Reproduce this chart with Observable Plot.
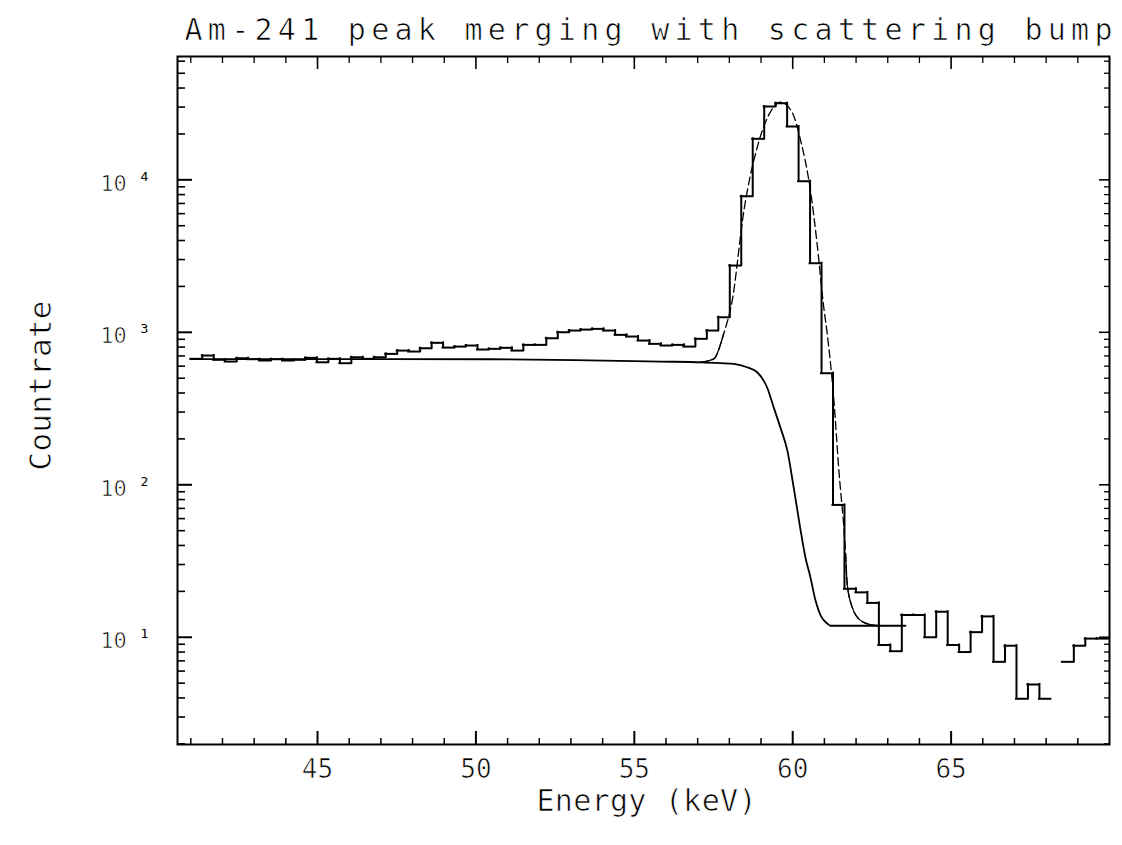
<!DOCTYPE html>
<html>
<head>
<meta charset="utf-8">
<script src="https://cdn.jsdelivr.net/npm/d3@7"></script>
<script src="https://cdn.jsdelivr.net/npm/@observablehq/plot@0.6"></script>
<style>
  body { margin: 0; background: #fff; }
  #chart svg { background: #fff; }
  #chart svg text {
    font-family: "DejaVu Sans Mono", "Liberation Mono", monospace;
    font-weight: normal;
    fill: #000;
    stroke: #fff;
    stroke-width: 0.7px;
    paint-order: fill;
  }
</style>
</head>
<body>
<div id="chart"></div>
<script>
// ---------------- data ----------------
const title = "Am-241 peak merging with scattering bump";
const xLabel = "Energy (keV)";
const yLabel = "Countrate";

// histogram channels (80 channels, lower edge of first and channel width in keV)
const channelStart = 41.0;
const channelWidth = 0.362;
const counts = [
  670, 704, 660, 643, 676, 666, 653, 666, 653, 660,
  680, 636, 670, 627, 686, 670, 686, 722, 759, 748,
  786, 853, 794, 806, 819, 771, 779, 791, 759, 827,
  827, 914, 1001, 1027, 1042, 1053, 1027, 962, 938, 883,
  840, 819, 827, 806, 906, 1027, 1255, 2741, 7805, 18575,
  30260, 31800, 22370, 9790, 2838, 539, 73.8, 20.8, 19.7, 16.8,
  8.9, 8.1, 14.0, 14.0, 10.0, 14.7, 8.9, 8.0, 10.8, 13.7,
  6.9, 8.8, 3.95, 4.9, 3.95, null, 6.9, 8.8, 9.8, 9.8
];

// background (step + constant) curve
const bgEnergy = [41.0, 44.46, 50.40, 53.55, 55.83, 57.13, 57.72, 58.14, 58.56, 58.88, 59.19, 59.40,
                  59.61, 59.83, 60.03, 60.24, 60.40, 60.56, 60.72, 60.88, 61.09, 61.19, 63.56];
const bgRate   = [668, 668, 666, 655, 643, 636, 628, 621, 590, 547, 436, 322,
                  238, 168, 96.3, 51.6, 33.5, 24.7, 17.4, 13.9, 12.3, 11.9, 11.9];

// total fit (background + peak) curve
const fitEnergy = [57.09, 57.51, 57.82, 58.09, 58.46, 58.88, 59.21, 59.61, 59.98, 60.25, 60.56,
                   60.77, 60.98, 61.09, 61.30, 61.45, 61.67, 61.72, 61.88, 62.14, 62.46, 62.77];
const fitRate   = [636, 670, 977, 1616, 6290, 16360, 25740, 32280, 27760, 18100, 8510,
                   3804, 1460, 977, 357, 130, 35.2, 22.4, 15.7, 12.9, 12.1, 11.9];

// axis ticks
const xMajor = [45, 50, 55, 60, 65];
const xMinor = [41, 42, 43, 44, 46, 47, 48, 49, 51, 52, 53, 54, 56, 57, 58, 59, 61, 62, 63, 64, 66, 67, 68, 69];
const yMajor = [10, 100, 1000, 10000];
const yExponent = ["1", "2", "3", "4"];
const yMinor = [2, 3, 4, 5, 6, 7, 8, 9,
                20, 30, 40, 50, 60, 70, 80, 90,
                200, 300, 400, 500, 600, 700, 800, 900,
                2000, 3000, 4000, 5000, 6000, 7000, 8000, 9000,
                20000, 30000, 40000, 50000, 60000];

// ---------------- tables ----------------
const bins = counts.map((v, i) => ({
  lo: channelStart + i * channelWidth,
  hi: channelStart + (i + 1) * channelWidth,
  v
}));
const risers = [];
for (let i = 1; i < bins.length; i++) {
  if (bins[i - 1].v != null && bins[i].v != null) {
    risers.push({x: bins[i].lo, y1: bins[i - 1].v, y2: bins[i].v});
  }
}
const bg = bgEnergy.map((e, i) => ({e, v: bgRate[i]}));
const fit = fitEnergy.map((e, i) => ({e, v: fitRate[i]}));

// ---------------- layout ----------------
const W = 1122, H = 845;
const mL = 177, mR = 13, mT = 56, mB = 101;
const fw = W - mL - mR, fh = H - mT - mB;

const chart = Plot.plot({
  width: W,
  height: H,
  marginLeft: mL,
  marginRight: mR,
  marginTop: mT,
  marginBottom: mB,
  style: {background: "#fff", color: "#000"},
  x: {domain: [40.58, 70.0], axis: null},
  y: {type: "log", domain: [1.98, 64400], axis: null},
  marks: [
    // histogram
    Plot.ruleY(bins.filter(b => b.v != null), {y: "v", x1: "lo", x2: "hi", stroke: "#000", strokeWidth: 2, strokeLinecap: "square"}),
    Plot.ruleX(risers, {x: "x", y1: "y1", y2: "y2", stroke: "#000", strokeWidth: 2, strokeLinecap: "square"}),
    // background curve
    Plot.line(bg, {x: "e", y: "v", curve: "monotone-x", stroke: "#000", strokeWidth: 1.8}),
    // fit curve: dashed, with solid ends
    Plot.line(fit, {x: "e", y: "v", curve: "monotone-x", stroke: "#000", strokeWidth: 1.3, strokeDasharray: "8,4"}),
    Plot.line(fit.filter(d => d.e <= 57.82), {x: "e", y: "v", curve: "monotone-x", stroke: "#000", strokeWidth: 1.4}),
    Plot.line(fit.filter(d => d.e >= 61.67), {x: "e", y: "v", curve: "monotone-x", stroke: "#000", strokeWidth: 1.2}),
    // ticks (inward) bottom / top
    Plot.ruleX(xMajor, {insetTop: fh - 13, stroke: "#000", strokeWidth: 2}),
    Plot.ruleX(xMinor, {insetTop: fh - 6, stroke: "#000", strokeWidth: 1.5}),
    Plot.ruleX(xMajor, {insetBottom: fh - 13, stroke: "#000", strokeWidth: 1.6}),
    Plot.ruleX(xMinor, {insetBottom: fh - 7, stroke: "#000", strokeWidth: 1.3}),
    // ticks (inward) left / right
    Plot.ruleY(yMajor, {insetRight: fw - 15, stroke: "#000", strokeWidth: 2}),
    Plot.ruleY(yMinor, {insetRight: fw - 8, stroke: "#000", strokeWidth: 1.6}),
    Plot.ruleY(yMajor, {insetLeft: fw - 10, stroke: "#000", strokeWidth: 1.6}),
    Plot.ruleY(yMinor, {insetLeft: fw - 5, stroke: "#000", strokeWidth: 1.3}),
    Plot.frame({stroke: "#000", strokeWidth: 2}),
    // tick labels
    Plot.text(xMajor, {x: d => d, text: d => String(d), frameAnchor: "bottom", lineAnchor: "bottom", textAnchor: "middle", dy: 33, fontSize: 26}),
    Plot.text(yMajor, {y: d => d, text: () => "10", frameAnchor: "left", lineAnchor: "middle", textAnchor: "middle", dx: -64, dy: 4, fontSize: 22}),
    Plot.text(yMajor, {y: d => d, text: (d, i) => yExponent[i], frameAnchor: "left", lineAnchor: "middle", textAnchor: "middle", dx: -33, dy: -3, fontSize: 13}),
    // titles
    Plot.text([title], {text: d => d, frameAnchor: "top", lineAnchor: "bottom", textAnchor: "middle", dx: 5, dy: -17, fontSize: 30}),
    Plot.text([xLabel], {text: d => d, frameAnchor: "bottom", lineAnchor: "bottom", textAnchor: "middle", dx: 3, dy: 66, fontSize: 30}),
    Plot.text([yLabel], {text: d => d, frameAnchor: "left", lineAnchor: "bottom", textAnchor: "middle", rotate: -90, dx: -127, dy: -15, fontSize: 31})
  ]
});

document.getElementById("chart").appendChild(chart);

// stretch the plotter-style lettering to the reference widths
const stretchTo = {[title]: 928, [xLabel]: 220, [yLabel]: 170};
chart.querySelectorAll("text").forEach(t => {
  const len = stretchTo[t.textContent];
  if (len) {
    t.setAttribute("textLength", len);
    t.setAttribute("lengthAdjust", "spacing");
  }
  if (yExponent.includes(t.textContent)) t.style.stroke = "none";
});
</script>
</body>
</html>
